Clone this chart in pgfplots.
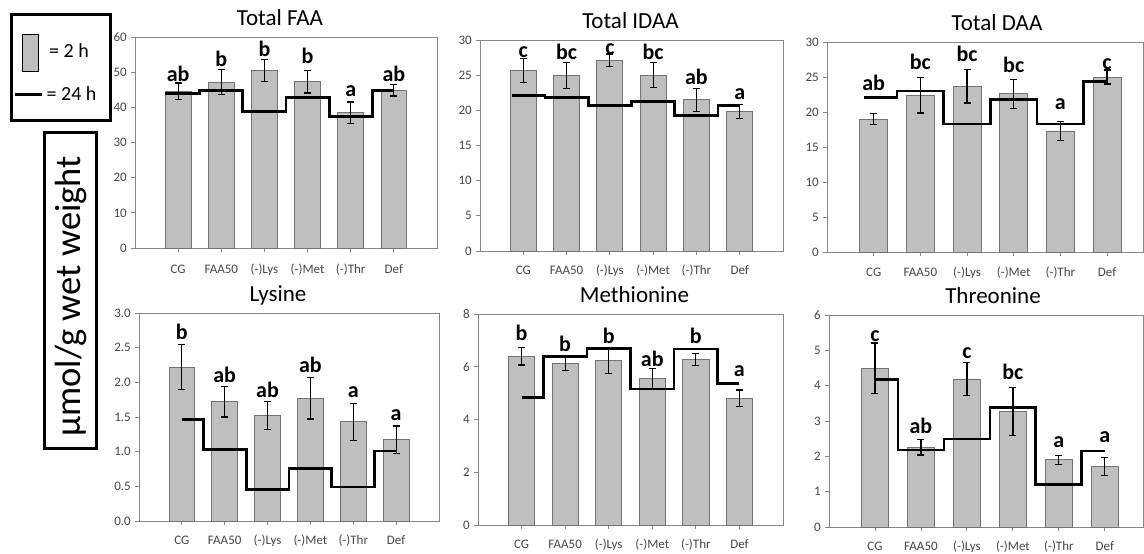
\documentclass[border=0pt]{standalone}
\usepackage{pgfplots}
\pgfplotsset{compat=1.18}
\usepackage{pgfplotstable}
\usepackage{fontspec}
\setmainfont{Carlito}
\definecolor{barfill}{RGB}{191,191,191}
\definecolor{bardraw}{RGB}{115,115,115}
\definecolor{axgray}{RGB}{134,134,134}
\definecolor{tickgray}{RGB}{70,70,70}

% x = category index, y = 2 h mean, e = error, t = letter height, lab = letter
\pgfplotstableread{
x y e t lab
0 44.6 2.3 47.3 ab
1 47.2 3.6 51.6 b
2 50.5 3.2 54.4 b
3 47.3 3.2 52.3 b
4 38.5 3.0 43.0 a
5 44.8 1.6 47.3 ab
}\tFAA
\pgfplotstableread{
x y e t lab
0 25.7 1.7 27.4 c
1 24.95 1.9 27.2 bc
2 27.1 0.9 27.9 c
3 25.0 1.8 27.2 bc
4 21.5 1.65 23.6 ab
5 19.8 1.0 21.5 a
}\tIDAA
\pgfplotstableread{
x y e t lab
0 19.0 0.75 22.95 ab
1 22.4 2.55 26.0 bc
2 23.7 2.4 27.2 bc
3 22.6 2.05 25.6 bc
4 17.3 1.35 20.3 a
5 25.0 1.0 26.0 c
}\tDAA
\pgfplotstableread{
x y e t lab
0 2.22 0.32 2.61 b
1 1.72 0.22 1.99 ab
2 1.52 0.20 1.77 ab
3 1.77 0.30 2.13 ab
4 1.43 0.27 1.77 a
5 1.17 0.20 1.45 a
}\tLys
\pgfplotstableread{
x y e t lab
0 6.40 0.33 6.99 b
1 6.11 0.25 6.55 b
2 6.23 0.50 6.86 b
3 5.55 0.38 6.01 ab
4 6.27 0.22 6.86 b
5 4.81 0.31 5.60 a
}\tMet
\pgfplotstableread{
x y e t lab
0 4.49 0.72 5.24 c
1 2.26 0.22 2.64 ab
2 4.19 0.46 4.77 c
3 3.26 0.68 4.16 bc
4 1.90 0.13 2.23 a
5 1.71 0.25 2.37 a
}\tThr

\pgfplotsset{
  panel/.style={
    scale only axis, anchor=south west,
    xmin=-1, xmax=6, ymin=0,
    xtick={0,1,2,3,4,5},
    xticklabels={CG,FAA50,(-)Lys,(-)Met,(-)Thr,Def},
    axis line style={draw=axgray, line width=0.9pt},
    every tick/.style={draw=axgray, line width=0.9pt},
    major tick length=4pt,
    tick align=outside,
    tick pos=left,
    /pgf/number format/assume math mode=true,
    ticklabel style={font=\fontsize{13}{15}\selectfont, text=tickgray},
    yticklabel style={anchor=east, inner sep=0pt, xshift=-4pt},
    title style={font=\fontsize{23}{25}\selectfont, anchor=base, at={(0.5,1)}, yshift=6pt, inner sep=0pt},
    clip=false,
  },
  bars/.style={ybar, bar width=0.6, fill=barfill, draw=bardraw, line width=0.8pt,
    error bars/.cd, y dir=both, y explicit,
    error bar style={black, line width=1.2pt},
    error mark options={rotate=90, mark size=3.5pt, black, line width=1.2pt}},
  stepline/.style={const plot mark mid, black, line width=2.8pt, mark=none, line join=miter},
  labs/.style={draw=none, mark=none, nodes near coords, point meta=explicit symbolic,
    every node near coord/.append style={font=\fontsize{22}{24}\selectfont\bfseries, text=black, inner sep=0pt}},
}

\begin{document}
\begin{tikzpicture}
\useasboundingbox (0,0) rectangle (1144pt,-554pt);

% ---- Total FAA
\begin{axis}[panel, at={(135pt,-248pt)}, width=302pt, height=211pt,
  ymax=60, ytick={0,10,...,60}, title={Total FAA}, title style={xshift=-6pt},
  xticklabel style={anchor=base, yshift=-21pt}]
\addplot[bars] table[x=x, y=y, y error=e] {\tFAA};
\addplot[stepline] coordinates {(-0.3,44.0) (0,44.0) (1,44.9) (2,38.8) (3,42.7) (4,37.3) (5,44.9)};
\addplot[labs] table[x=x, y=t, meta=lab] {\tFAA};
\end{axis}

% ---- Total IDAA
\begin{axis}[panel, at={(480pt,-251pt)}, width=303pt, height=211pt,
  ymax=30, ytick={0,5,...,30}, title={Total IDAA}, title style={xshift=-1pt},
  xticklabel style={anchor=base, yshift=-19pt}]
\addplot[bars] table[x=x, y=y, y error=e] {\tIDAA};
\addplot[stepline] coordinates {(-0.25,22.07) (0,22.07) (1,21.8) (2,20.7) (3,21.2) (4,19.3) (5,20.7)};
\addplot[labs] table[x=x, y=t, meta=lab] {\tIDAA};
\end{axis}

% ---- Total DAA
\begin{axis}[panel, at={(827pt,-252pt)}, width=316pt, height=210pt, xmax=5.77,
  ymax=30, ytick={0,5,...,30}, title={Total DAA}, title style={xshift=12pt},
  xticklabel style={anchor=base, yshift=-20pt}]
\addplot[bars] table[x=x, y=y, y error=e] {\tDAA};
\addplot[stepline] coordinates {(-0.2,22.1) (0,22.1) (1,23.0) (2,18.3) (3,21.8) (4,18.3) (5,24.4)};
\addplot[labs] table[x=x, y=t, meta=lab] {\tDAA};
\end{axis}

% ---- Lysine
\begin{axis}[panel, at={(139pt,-521pt)}, width=300pt, height=208pt,
  ymax=3, ytick={0,0.5,...,3}, title={Lysine}, title style={xshift=-11pt},
  yticklabel style={/pgf/number format/.cd, fixed, fixed zerofill, precision=1},
  xticklabel style={anchor=base, yshift=-19pt}]
\addplot[bars] table[x=x, y=y, y error=e] {\tLys};
\addplot[stepline] coordinates {(0,1.46) (1,1.03) (2,0.45) (3,0.76) (4,0.49) (5,1.01)};
\addplot[labs] table[x=x, y=t, meta=lab] {\tLys};
\end{axis}

% ---- Methionine
\begin{axis}[panel, at={(478pt,-525pt)}, width=305pt, height=211pt,
  ymax=8, ytick={0,2,...,8}, title={Methionine}, title style={xshift=4pt},
  xticklabel style={anchor=base, yshift=-19pt}]
\addplot[bars] table[x=x, y=y, y error=e] {\tMet};
\addplot[stepline] coordinates {(0,4.82) (1,6.40) (2,6.70) (3,5.16) (4,6.67) (5,5.35)};
\addplot[labs] table[x=x, y=t, meta=lab] {\tMet};
\end{axis}

% ---- Threonine
\begin{axis}[panel, at={(829pt,-527pt)}, width=314pt, height=212pt, xmax=5.83,
  ymax=6, ytick={0,1,...,6}, title={Threonine}, title style={xshift=7pt},
  xticklabel style={anchor=base, yshift=-19pt}]
\addplot[bars] table[x=x, y=y, y error=e] {\tThr};
\addplot[stepline] coordinates {(0,4.18) (1,2.18) (2,2.49) (3,3.38) (4,1.20) (5,2.15)};
\addplot[labs] table[x=x, y=t, meta=lab] {\tThr};
\end{axis}

% ---- legend box
\draw[line width=3pt] (11.5pt,-14.5pt) rectangle (110.5pt,-120.5pt);
\draw[fill=barfill, draw=black, line width=0.9pt] (22pt,-34pt) rectangle (38pt,-71pt);
\node[anchor=base west, inner sep=0pt, font=\fontsize{20}{22}\selectfont] at (49pt,-57pt) {= 2 h};
\draw[line width=3pt] (15pt,-94pt) -- (41.5pt,-94pt);
\node[anchor=base west, inner sep=0pt, font=\fontsize{20}{22}\selectfont] at (46.5pt,-100pt) {= 24 h};

% ---- y label box
\draw[line width=3pt] (44.8pt,-132.5pt) rectangle (96.5pt,-448.5pt);
\node[rotate=90, inner sep=0pt, font=\fontsize{36.5}{40}\selectfont] at (71pt,-296.5pt) {µmol/g wet weight};
\end{tikzpicture}
\end{document}
